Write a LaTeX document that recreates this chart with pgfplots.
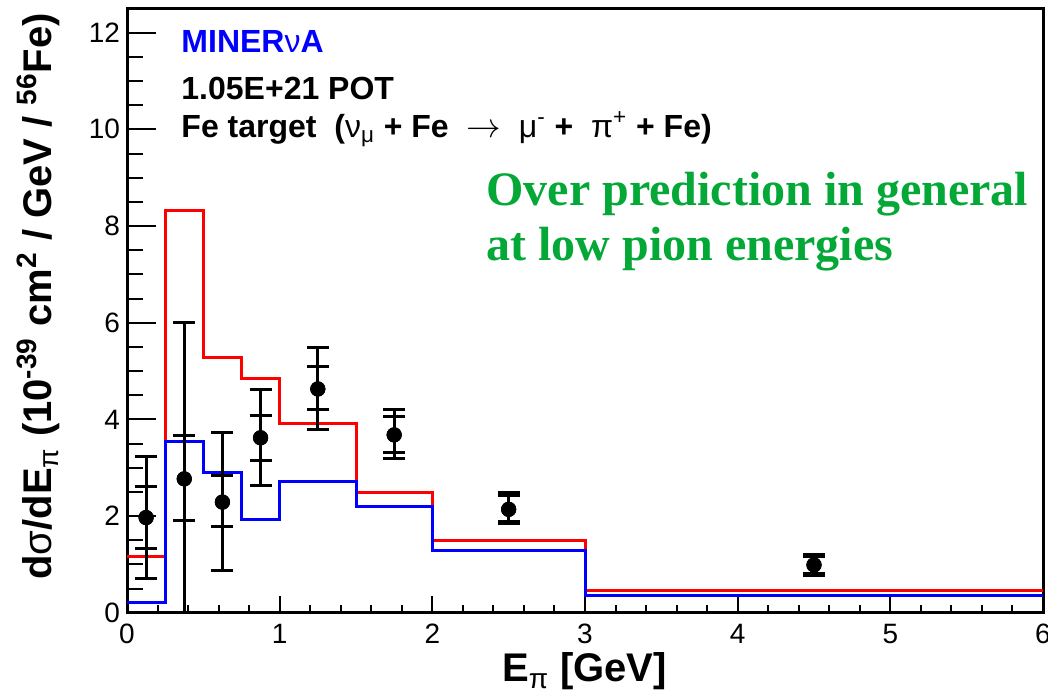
\documentclass[border=0pt]{standalone}
\usepackage{pgfplots}
\usepackage{pgfplotstable}
\pgfplotsset{compat=1.18}
\usepackage{fontspec}
\setmainfont{Liberation Sans}
\newfontfamily\serifb{Liberation Serif}
\definecolor{rgreen}{RGB}{3,168,55}

\pgfplotstableread{
x     y    op   om   ip   im
0.125 1.97 1.26 1.27 0.64 0.63
0.375 2.77 3.23 2.77 0.89 0.87
0.625 2.29 1.44 1.41 0.54 0.50
0.875 3.62 0.99 0.98 0.47 0.47
1.25  4.63 0.86 0.84 0.46 0.42
1.75  3.68 0.53 0.49 0.38 0.37
2.5   2.14 0.34 0.29 0.28 0.25
4.5   0.99 0.21 0.21 0.17 0.17
}\datatab

\begin{document}
\begin{tikzpicture}
\useasboundingbox (0,0) rectangle (524pt,349.5pt);
\begin{axis}[
  at={(63.5pt,43.1pt)}, anchor=south west,
  scale only axis, width=458pt, height=301.9pt,
  xmin=0, xmax=6, ymin=0, ymax=12.49,
  axis line style={line width=1.5pt},
  xtick={0,1,...,6}, ytick={0,2,...,12},
  minor x tick num=4, minor y tick num=3,
  tick align=inside, xtick pos=bottom, ytick pos=left,
  xtick style={line width=1pt, black, /pgfplots/major tick length=8.5pt, /pgfplots/minor tick length=4pt},
  ytick style={line width=1pt, black, /pgfplots/major tick length=14.5pt, /pgfplots/minor tick length=8pt},
  ticklabel style={font=\fontsize{14}{16}\selectfont},
  xticklabel style={yshift=-2pt},
  /pgf/number format/assume math mode=true,
  xlabel={\textbf{E\textsubscript{\textmd{π}} [GeV]}},
  ylabel={\textbf{d\textmd{σ}/dE\textsubscript{\textmd{π}} (10\textsuperscript{-39} cm\textsuperscript{2} / GeV / \textsuperscript{56}Fe)}},
  every axis x label/.style={at={(axis description cs:0.4995,-0.1143)}, anchor=base, font=\fontsize{20}{24}\selectfont},
  every axis y label/.style={at={(axis description cs:-0.0819,0.524)}, anchor=base, rotate=90, font=\fontsize{20}{24}\selectfont},
]
\addplot[red, line width=1.5pt, const plot, mark=none] coordinates {
  (0,1.16) (0.25,8.32) (0.5,5.28) (0.75,4.84) (1,3.92) (1.5,2.48) (2,1.49) (3,0.47) (6,0.47)};
\addplot[blue, line width=1.5pt, const plot, mark=none] coordinates {
  (0,0.21) (0.25,3.55) (0.5,2.90) (0.75,1.93) (1,2.71) (1.5,2.19) (2,1.28) (3,0.36) (6,0.36)};
\addplot[only marks, mark=*, mark size=3.6pt, black,
  error bars/.cd, y dir=both, y explicit,
  error bar style={line width=1.5pt, black},
  error mark options={rotate=90, mark size=5.5pt, line width=1.5pt, black}]
  table[x=x, y=y, y error plus=op, y error minus=om] {\datatab};
\addplot[only marks, mark=*, mark size=3.6pt, black,
  error bars/.cd, y dir=both, y explicit,
  error bar style={line width=1.5pt, black},
  error mark options={rotate=90, mark size=5.5pt, line width=1.5pt, black}]
  table[x=x, y=y, y error plus=ip, y error minus=im] {\datatab};

\node[anchor=base west, inner sep=0, font=\fontsize{16}{19}\selectfont\bfseries, text=blue]
  at ([yshift=-22pt]rel axis cs:0.059,1) {MINER\textmd{ν}A};
\node[anchor=base west, inner sep=0, font=\fontsize{16}{19}\selectfont\bfseries]
  at ([yshift=-45.5pt]rel axis cs:0.059,1) {1.05E+21 POT};
\node[anchor=base west, inner sep=0, font=\fontsize{16}{19}\selectfont\bfseries]
  at ([yshift=-64.25pt]rel axis cs:0.059,1) {Fe target\ \ (\textmd{ν}\textsubscript{\textmd{μ}} + Fe\ \ \ensuremath{\rightarrow}\ \ \textmd{μ}\textsuperscript{\textmd{-}} + \ \textmd{π}\textsuperscript{\textmd{+}} + Fe)};
\node[anchor=base west, inner sep=0, font=\serifb\bfseries\fontsize{24}{28}\selectfont, text=rgreen]
  at ([yshift=-98.5pt]rel axis cs:0.392,1) {Over prediction in general};
\node[anchor=base west, inner sep=0, font=\serifb\bfseries\fontsize{24}{28}\selectfont, text=rgreen]
  at ([yshift=-126pt]rel axis cs:0.392,1) {at low pion energies};
\end{axis}
\end{tikzpicture}
\end{document}
